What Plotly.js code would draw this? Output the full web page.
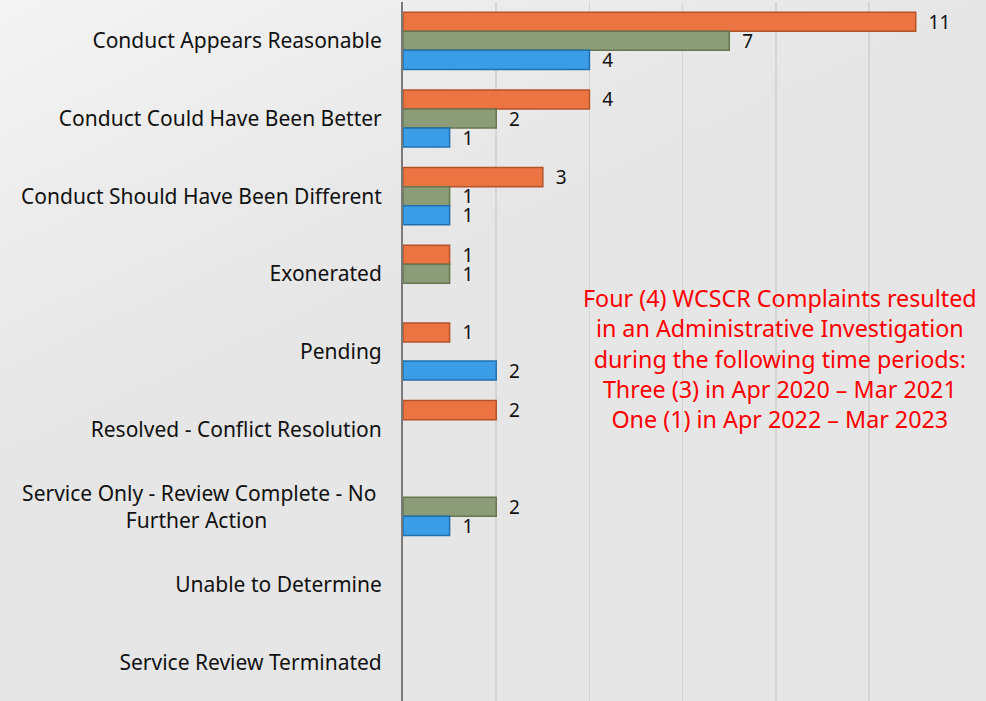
<!DOCTYPE html>
<html>
<head>
<meta charset="utf-8">
<script src="https://cdn.plot.ly/plotly-3.0.1.min.js"></script>
<style>
  html, body { margin: 0; padding: 0; }
  body {
    width: 986px; height: 701px; overflow: hidden;
    background: linear-gradient(155deg, #f4f4f4 0%, #ebebeb 22%, #e6e6e6 40%, #e6e6e6 100%);
  }
  #chart { width: 986px; height: 701px; }
</style>
</head>
<body>
<div id="chart"></div>
<script>
const categories = [
  "Conduct Appears Reasonable",
  "Conduct Could Have Been Better",
  "Conduct Should Have Been Different",
  "Exonerated",
  "Pending",
  "Resolved - Conflict Resolution",
  "Service Only - Review Complete - No\u00A0<br>Further Action" + "\u00A0".repeat(21),
  "Unable to Determine",
  "Service Review Terminated"
];
const seriesNames = ["Apr 2020 \u2013 Mar 2021", "Apr 2021 \u2013 Mar 2022", "Apr 2022 \u2013 Mar 2023"];
const orangeValues = [11, 4, 3, 1, 1, 2, null, null, null];
const greenValues  = [7, 2, 1, 1, null, null, 2, null, null];
const blueValues   = [4, 1, 1, null, 2, null, 1, null, null];
const noteLines = [
  "Four (4) WCSCR Complaints resulted",
  "in an Administrative Investigation",
  "during the following time periods:",
  "Three (3) in Apr 2020 \u2013 Mar 2021",
  "One (1) in Apr 2022 \u2013 Mar 2023"
];

const fills = ["#ec7443", "#8c9c79", "#3a9de6"];
const edges = ["#b4532a", "#66764f", "#2170ad"];
const allValues = [orangeValues, greenValues, blueValues];

const traces = allValues.map((vals, i) => ({
  type: "bar",
  orientation: "h",
  name: seriesNames[i],
  y: categories,
  x: vals,
  text: vals.map(v => (v === null ? "" : "\u00A0\u00A0" + v)),
  textposition: "outside",
  constraintext: "none",
  cliponaxis: false,
  textfont: { family: "Noto Sans, sans-serif", size: 19, color: "#111111" },
  marker: { color: fills[i], line: { color: edges[i], width: 1.5 } },
  hoverinfo: "x+y+name"
}));

const layout = {
  width: 986, height: 701,
  margin: { l: 403, r: 33, t: 2, b: 0 },
  paper_bgcolor: "rgba(0,0,0,0)",
  plot_bgcolor: "rgba(0,0,0,0)",
  showlegend: false,
  barmode: "group",
  bargap: 0.265,
  bargroupgap: 0,
  font: { family: "Noto Sans, sans-serif", color: "#111111" },
  xaxis: {
    range: [0, 11.8],
    dtick: 2,
    showticklabels: false,
    showgrid: true,
    gridcolor: "#d4d4d4",
    gridwidth: 1.5,
    zeroline: false,
    showline: false,
    fixedrange: true
  },
  yaxis: {
    type: "category",
    autorange: "reversed",
    showgrid: false,
    zeroline: false,
    showline: true,
    linecolor: "#7a7a7a",
    linewidth: 2,
    ticks: "",
    ticklabelstandoff: 15,
    tickfont: { family: "Noto Sans, sans-serif", size: 21, color: "#111111" },
    fixedrange: true
  },
  annotations: [{
    xref: "paper", yref: "paper",
    x: 0.685, y: 0.49,
    xanchor: "center", yanchor: "middle",
    align: "center",
    showarrow: false,
    text: noteLines.join("<br>"),
    font: { family: "Noto Sans, sans-serif", size: 23.3, color: "#ff0000" }
  }]
};

Plotly.newPlot("chart", traces, layout, { displayModeBar: false, staticPlot: true });
</script>
</body>
</html>
